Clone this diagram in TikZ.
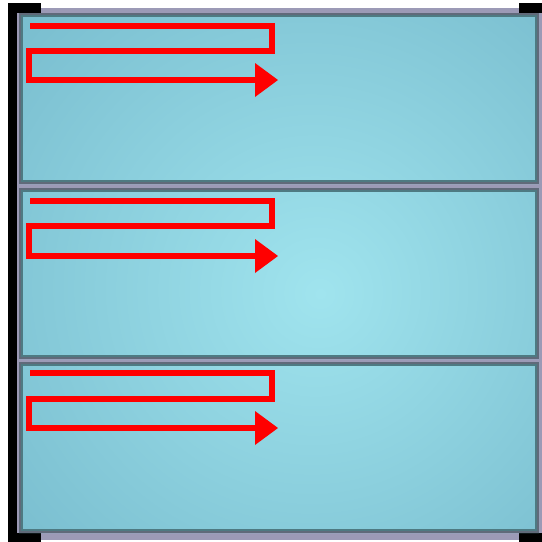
\documentclass[tikz,border=0pt]{standalone}
\definecolor{frameclr}{RGB}{156,154,182}
\definecolor{edgegray}{RGB}{96,106,122}
\definecolor{edgeteal}{RGB}{78,122,130}
\definecolor{glassin}{RGB}{160,228,238}
\definecolor{glassout}{RGB}{108,176,196}
\definecolor{arrowred}{RGB}{255,0,0}
\pgfdeclareradialshading{glass}{\pgfpoint{4bp}{-2bp}}{color(0bp)=(glassin); color(50bp)=(glassout); color(80bp)=(glassout)}
\tikzset{
  blackpart/.style={fill=black},
  outeredge/.style={draw=edgegray, line width=2pt},
  inneredge/.style={draw=edgeteal, line width=2pt},
  flowline/.style={draw=arrowred, line width=6pt, line join=miter},
  flowhead/.style={fill=arrowred}
}
\begin{document}
\begin{tikzpicture}[x=1pt,y=-1pt]
\useasboundingbox (0,0) rectangle (542,542);
% lavender frame
\fill[frameclr] (17,8) rectangle (542,540);
% black profile
\fill[blackpart] (8,3) rectangle (17,542);
\fill[blackpart] (8,3) rectangle (41,13);
\fill[blackpart] (8,533) rectangle (41,542);
\fill[blackpart] (519,3) rectangle (542,13);
\fill[blackpart] (519,533) rectangle (542,542);
% glass panes with a common radial gradient
\shade[shading=glass] (19,13) rectangle (539,184)
                      (19,188) rectangle (539,359)
                      (19,362) rectangle (539,533);
% pane edges
\foreach \ya/\yb in {13/184, 188/359, 362/533}{
  \draw[outeredge] (20,\ya+1) rectangle (538,\yb-1);
  \draw[inneredge] (22,\ya+3) rectangle (536,\yb-3);
}
% red serpentine arrows
\foreach \ta/\tb/\tc in {26/51/80, 200.5/226/256, 373/399/428}{
  \draw[flowline] (30,\ta) -- (272,\ta) -- (272,\tb) -- (29,\tb) -- (29,\tc) -- (257,\tc);
  \fill[flowhead] (255,\tc-17) -- (278,\tc) -- (255,\tc+17) -- cycle;
}
\end{tikzpicture}
\end{document}
